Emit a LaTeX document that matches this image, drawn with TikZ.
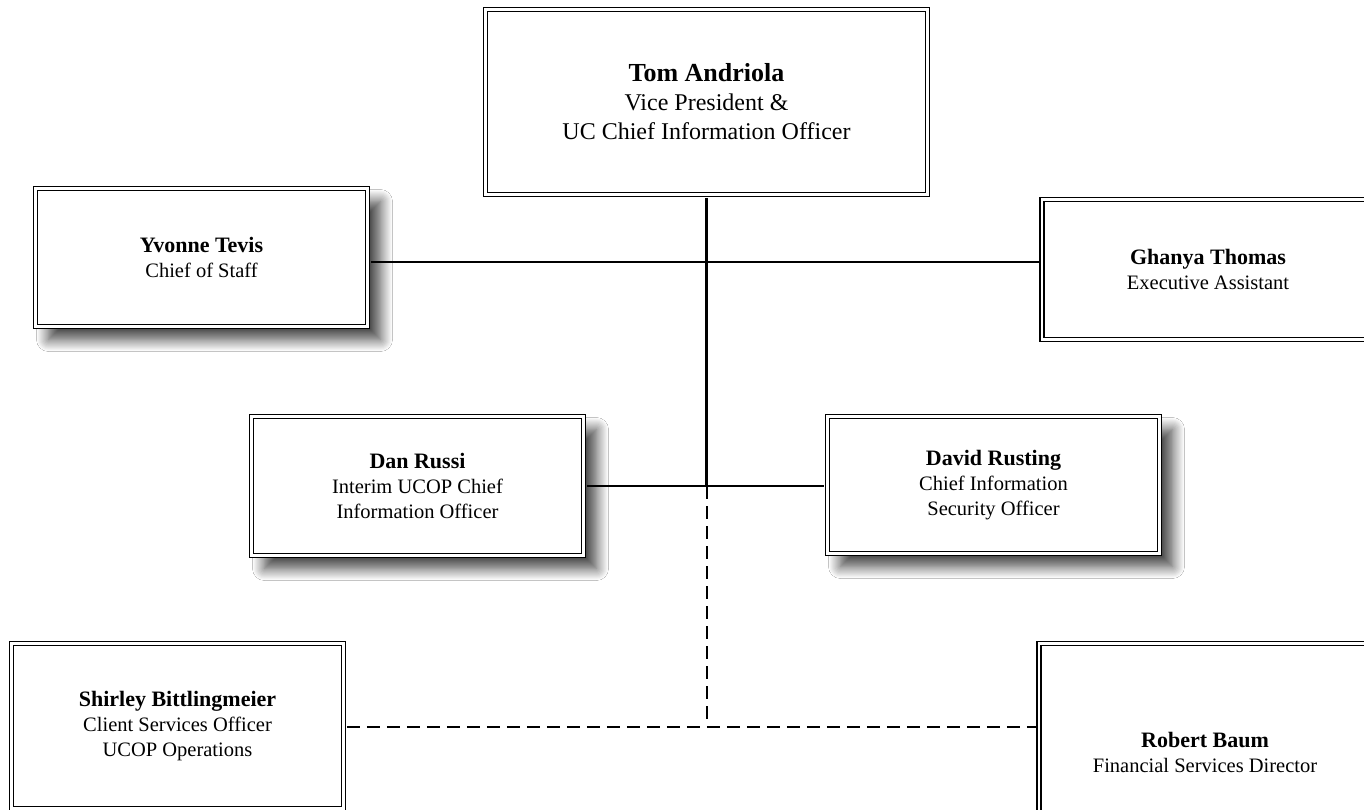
\documentclass[tikz,border=0pt]{standalone}
\usepackage{fontspec}
\setmainfont{Liberation Serif}
\usetikzlibrary{shadows.blur}
\newcommand\pname[1]{{\fontsize{22}{25}\selectfont\bfseries #1}}
\begin{document}
\begin{tikzpicture}[x=1pt,y=-1pt,
  box/.style={draw=black, line width=1.5pt, double=white, double distance=2.3pt,
    fill=white, align=center, inner sep=0pt, minimum width=332pt,
    font=\fontsize{20.5}{25}\selectfont},
  shad/.style={blur shadow={shadow xshift=13pt, shadow yshift=-13pt,
    shadow blur radius=12pt, shadow blur steps=12, shadow opacity=75}},
  solidline/.style={line width=1.8pt, shorten <=2.5pt, shorten >=2.5pt},
  vline/.style={line width=2.3pt, shorten <=2.5pt},
  dashline/.style={line width=2pt, dash pattern=on 13pt off 7pt}]
\useasboundingbox (0,0) rectangle (1364,809);
\begin{scope}
\clip (0,0) rectangle (1364,809);
\fill[white] (0,0) rectangle (1364,809);
% boxes
\node[box, minimum width=442pt, minimum height=185pt,
  font=\fontsize{24}{29}\selectfont] (top) at (706.5,102)
  {{\fontsize{26}{29}\selectfont\bfseries Tom Andriola}\\Vice President \&\\UC Chief Information Officer};
\node[box, shad, minimum height=138pt] (yvonne) at (201.5,257.5)
  {\pname{Yvonne Tevis}\\Chief of Staff};
\node[box, minimum height=140pt] (ghanya) at (1208,269.5)
  {\pname{Ghanya Thomas}\\Executive Assistant};
\node[box, shad, minimum height=139pt] (dan) at (417.5,486)
  {\pname{Dan Russi}\\Interim UCOP Chief\\Information Officer};
\node[box, shad, minimum height=137pt] (david) at (993.5,485)
  {\pname{David Rusting}\\Chief Information\\Security Officer};
\node[box, minimum height=165pt] (shirley) at (177.5,726)
  {\pname{Shirley Bittlingmeier}\\Client Services Officer\\UCOP Operations};
\node[box, minimum height=217pt] (robert) at (1205,752)
  {\pname{Robert Baum}\\Financial Services Director};
% connectors
\coordinate (jA) at (706.5,262);
\coordinate (jB) at (top.south |- dan.east);
\coordinate (jC) at (706.5,720);
\coordinate (jD) at (706.5,727);
\draw[solidline] (yvonne.east |- jA) -- (ghanya.west |- jA);
\draw[vline] (top.south) -- (jB);
\draw[solidline] (dan.east) -- (david.west |- dan.east);
\draw[dashline] (jB) -- (jC);
\draw[dashline, shorten <=2.5pt, shorten >=2.5pt] (shirley.east |- jD) -- (robert.west |- jD);
\end{scope}
\end{tikzpicture}
\end{document}
